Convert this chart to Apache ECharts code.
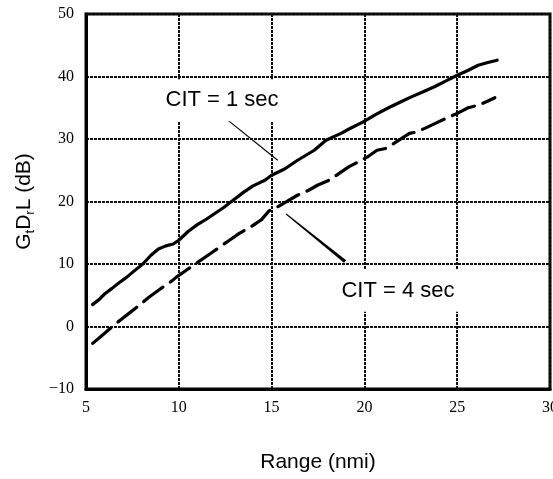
<!DOCTYPE html>
<html>
<head>
<meta charset="utf-8">
<script src="https://cdn.jsdelivr.net/npm/echarts@6/dist/echarts.min.js"></script>
<style>
  html, body { margin: 0; padding: 0; background: #fff; }
  #chart { width: 553px; height: 479px; }
</style>
</head>
<body>
<div id="chart"></div>
<script>
// Range (nmi) and G·Dr·L (dB) for a coherent integration time of 1 s
const rangeCit1 = [5.35, 5.7, 6.0, 6.4, 6.8, 7.2, 7.6, 8.06, 8.5, 8.9, 9.3, 9.7, 10.0, 10.5, 11.0, 11.5,
  12.0, 12.4, 12.84, 13.5, 14.0, 14.64, 15.0, 15.7, 16.4, 17.3, 17.93, 18.74, 19.3, 19.91, 20.6, 21.3,
  22.0, 22.5, 23.2, 23.8, 24.4, 25.0, 25.6, 26.13, 26.6, 27.15];
const gainCit1 = [3.5, 4.3, 5.2, 6.1, 7.05, 7.9, 8.9, 10.0, 11.4, 12.4, 12.9, 13.2, 13.8, 15.2, 16.3, 17.2,
  18.2, 19.0, 20.0, 21.5, 22.5, 23.4, 24.2, 25.2, 26.6, 28.2, 29.8, 30.9, 31.8, 32.7, 33.9, 35.0,
  36.0, 36.7, 37.6, 38.4, 39.3, 40.2, 41.0, 41.8, 42.2, 42.6];

// Same quantity for a coherent integration time of 4 s
const rangeCit4 = [5.36, 5.8, 6.39, 6.84, 7.4, 8.0, 8.37, 9.0, 9.63, 9.87, 10.5, 11.13, 11.67, 12.2, 12.75,
  13.26, 13.9, 14.46, 14.86, 15.3, 15.76, 16.39, 17.0, 17.47, 18.1, 19.13, 19.64, 20.2, 20.68, 21.17,
  21.8, 22.43, 22.79, 23.4, 23.96, 24.4, 25.0, 25.59, 26.13, 26.6, 27.03];
const gainCit4 = [-2.7, -1.6, -0.1, 1.0, 2.3, 3.7, 4.65, 6.0, 7.3, 7.9, 9.2, 10.5, 11.6, 12.7, 13.85,
  14.9, 16.0, 17.1, 18.5, 19.1, 19.9, 21.0, 21.8, 22.6, 23.4, 25.5, 26.3, 27.2, 28.2, 28.5,
  29.7, 30.9, 31.1, 31.9, 32.7, 33.3, 34.1, 35.0, 35.4, 36.0, 36.6];

const xTicks = [5, 10, 15, 20, 25, 30];
const yTicks = [-10, 0, 10, 20, 30, 40, 50];

const labelCit1 = 'CIT = 1 sec';
const labelCit4 = 'CIT = 4 sec';

function pairs(xs, ys) { return xs.map((x, i) => [x, ys[i]]); }

const chart = echarts.init(document.getElementById('chart'), null, { renderer: 'canvas' });

const serifTick = { fontFamily: '"Liberation Serif", "Times New Roman", serif', fontSize: 16, color: '#000' };
const gridLine = { color: '#111', width: 2, type: [3, 1] };

chart.setOption({
  backgroundColor: '#fff',
  animation: false,
  grid: {
    left: 86, right: 3, top: 14, bottom: 90,
    containLabel: false, outerBoundsMode: 'none',
    show: true, borderColor: '#000', borderWidth: 3, backgroundColor: 'transparent'
  },
  xAxis: {
    type: 'value',
    min: xTicks[0], max: xTicks[xTicks.length - 1], interval: xTicks[1] - xTicks[0],
    axisLine: { show: true, onZero: false, lineStyle: { color: '#000', width: 3 } },
    axisTick: { show: false },
    axisLabel: Object.assign({ margin: 11 }, serifTick),
    splitLine: { show: true, lineStyle: gridLine },
    name: 'Range (nmi)',
    nameLocation: 'middle',
    nameGap: 63,
    nameTextStyle: { fontFamily: '"Liberation Sans", Arial, sans-serif', fontSize: 21, color: '#000' }
  },
  yAxis: {
    type: 'value',
    min: yTicks[0], max: yTicks[yTicks.length - 1], interval: yTicks[1] - yTicks[0],
    axisLine: { show: true, onZero: false, lineStyle: { color: '#000', width: 3 } },
    axisTick: { show: false },
    axisLabel: Object.assign({
      margin: 12,
      formatter: v => (v < 0 ? '\u2212' + Math.abs(v) : String(v))
    }, serifTick),
    splitLine: { show: true, lineStyle: gridLine },
    name: '{m|G}{s|t}{m|D}{s|r}{m|L (dB)}',
    nameLocation: 'middle',
    nameGap: 49,
    nameTextStyle: {
      fontFamily: '"Liberation Sans", Arial, sans-serif', fontSize: 21, color: '#000',
      rich: {
        m: { fontFamily: '"Liberation Sans", Arial, sans-serif', fontSize: 21, color: '#000', lineHeight: 26 },
        s: { fontFamily: '"Liberation Sans", Arial, sans-serif', fontSize: 13, color: '#000',
             lineHeight: 26, padding: [12, 0, 0, 0] }
      }
    }
  },
  series: [
    {
      name: labelCit1,
      type: 'line',
      data: pairs(rangeCit1, gainCit1),
      showSymbol: false,
      smooth: false,
      lineStyle: { color: '#000', width: 3.2, cap: 'round', join: 'round' },
      z: 5
    },
    {
      name: labelCit4,
      type: 'line',
      data: pairs(rangeCit4, gainCit4),
      showSymbol: false,
      smooth: false,
      lineStyle: { color: '#000', width: 3.2, type: [24, 9], cap: 'round', join: 'round' },
      z: 5
    }
  ]
});

// Callout labels and their leader lines, placed in data coordinates
const callouts = [
  { text: labelCit1, at: [12.33, 36.2], from: [12.27, 33.9], to: [15.33, 26.6], w0: 1, w1: 1.2 },
  { text: labelCit4, at: [21.81, 5.72], from: [15.78, 18.0], to: [18.96, 10.4], w0: 1, w1: 3.5 }
];

const px = p => chart.convertToPixel({ gridIndex: 0 }, p);

const graphics = [];
callouts.forEach(c => {
  const a = px(c.from), b = px(c.to);
  const dx = b[0] - a[0], dy = b[1] - a[1];
  const len = Math.hypot(dx, dy);
  const nx = -dy / len, ny = dx / len;
  graphics.push({
    type: 'polygon',
    z: 20,
    shape: {
      points: [
        [a[0] + nx * c.w0 / 2, a[1] + ny * c.w0 / 2],
        [b[0] + nx * c.w1 / 2, b[1] + ny * c.w1 / 2],
        [b[0] - nx * c.w1 / 2, b[1] - ny * c.w1 / 2],
        [a[0] - nx * c.w0 / 2, a[1] - ny * c.w0 / 2]
      ]
    },
    style: { fill: '#000' }
  });
  const t = px(c.at);
  graphics.push({
    type: 'text',
    z: 30,
    x: t[0], y: t[1],
    style: {
      text: c.text,
      fontFamily: '"Liberation Sans", Arial, sans-serif',
      fontSize: 22,
      fill: '#000',
      align: 'center',
      verticalAlign: 'middle',
      backgroundColor: '#fff',
      padding: [10, 5, 10, 5]
    }
  });
});

chart.setOption({ graphic: graphics });
</script>
</body>
</html>
